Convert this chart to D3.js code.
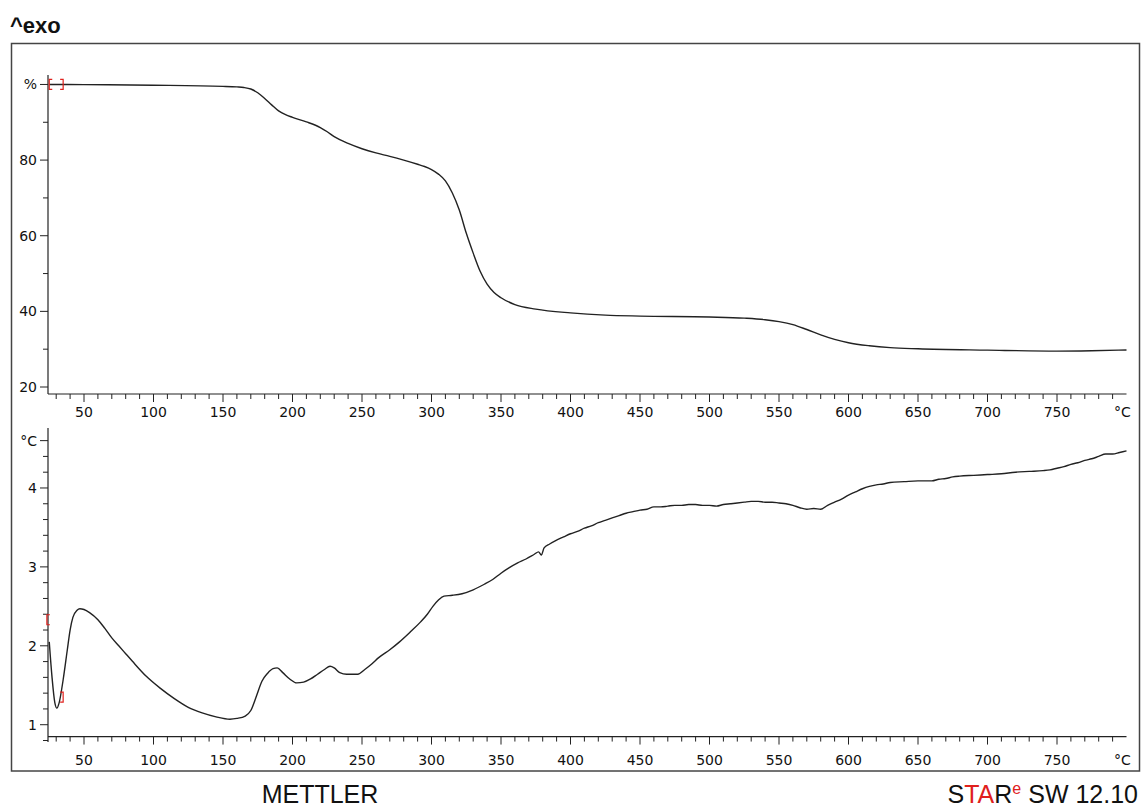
<!DOCTYPE html>
<html>
<head>
<meta charset="utf-8">
<script src="https://cdn.jsdelivr.net/npm/d3@7"></script>
<style>
  html, body { margin: 0; padding: 0; background: #fff; }
  svg { display: block; }
  .tick-label { font-family: "DejaVu Sans", Verdana, sans-serif; font-size: 14px; fill: #111; }
</style>
</head>
<body>
<svg id="chart" width="1143" height="808"></svg>
<script>
// TGA: sample mass (%) against temperature (°C)
const tgaTemp = [25, 50, 100, 150, 160, 165, 170, 175, 180, 185, 190, 195, 200, 210, 220, 225, 230, 240, 250, 260, 270, 280, 290, 295, 300, 305, 310, 315, 320, 325, 330, 335, 340, 345, 350, 360, 375, 400, 425, 450, 500, 525, 540, 550, 560, 570, 580, 590, 600, 615, 630, 650, 700, 750, 775, 800];
const tgaMass = [100.0, 99.95, 99.8, 99.5, 99.35, 99.2, 98.8, 97.8, 96.3, 94.6, 93.0, 92.0, 91.3, 90.1, 88.6, 87.5, 86.2, 84.4, 83.0, 81.9, 81.0, 80.0, 78.9, 78.3, 77.5, 76.3, 74.5, 71.3, 66.8, 60.7, 55.4, 50.6, 47.2, 45.0, 43.6, 41.8, 40.6, 39.6, 39.0, 38.75, 38.5, 38.2, 37.8, 37.3, 36.5, 35.2, 33.8, 32.6, 31.7, 30.9, 30.4, 30.1, 29.75, 29.5, 29.6, 29.8];

// SDTA signal (°C) against temperature (°C)
const sdtaTemp = [25, 27, 29, 30.5, 32, 35, 38, 40, 42, 45, 47, 50, 54, 60, 65, 70, 75, 80, 85, 95, 105, 115, 125, 135, 145, 155, 160, 166, 170, 174, 178, 182, 186, 189, 193, 198, 203, 208, 213, 218, 223, 227, 230, 234, 239, 247, 252, 257, 262, 270, 277, 285, 292, 297, 301, 305, 309, 315, 322, 330, 338, 344, 350, 356, 362, 368, 374, 377, 379, 381, 385, 390, 395, 400, 405, 410, 415, 420, 425, 430, 435, 440, 445, 450, 455, 460, 465, 470, 475, 480, 485, 490, 495, 500, 505, 510, 515, 520, 525, 530, 535, 540, 545, 550, 555, 560, 565, 570, 575, 580, 585, 590, 595, 600, 605, 610, 615, 620, 625, 630, 640, 650, 660, 665, 670, 675, 680, 690, 700, 710, 720, 730, 740, 745, 750, 755, 760, 765, 770, 775, 780, 785, 790, 795, 800];
const sdtaValue = [2.05, 1.6, 1.28, 1.21, 1.27, 1.57, 1.95, 2.2, 2.36, 2.45, 2.47, 2.46, 2.42, 2.33, 2.22, 2.10, 2.00, 1.90, 1.80, 1.61, 1.46, 1.33, 1.22, 1.15, 1.10, 1.07, 1.08, 1.11, 1.18, 1.36, 1.55, 1.65, 1.71, 1.72, 1.66, 1.58, 1.53, 1.54, 1.58, 1.64, 1.70, 1.74, 1.72, 1.66, 1.64, 1.64, 1.70, 1.77, 1.85, 1.95, 2.05, 2.18, 2.30, 2.40, 2.50, 2.58, 2.63, 2.64, 2.66, 2.71, 2.78, 2.84, 2.92, 2.99, 3.05, 3.10, 3.16, 3.19, 3.15, 3.24, 3.29, 3.34, 3.38, 3.42, 3.45, 3.49, 3.52, 3.56, 3.59, 3.62, 3.65, 3.68, 3.70, 3.72, 3.73, 3.76, 3.76, 3.77, 3.78, 3.78, 3.79, 3.79, 3.78, 3.78, 3.77, 3.79, 3.80, 3.81, 3.82, 3.83, 3.83, 3.82, 3.82, 3.81, 3.80, 3.78, 3.75, 3.73, 3.74, 3.73, 3.78, 3.82, 3.86, 3.91, 3.95, 3.99, 4.02, 4.04, 4.05, 4.07, 4.08, 4.09, 4.09, 4.11, 4.12, 4.14, 4.15, 4.16, 4.17, 4.18, 4.20, 4.21, 4.22, 4.23, 4.25, 4.27, 4.30, 4.32, 4.35, 4.37, 4.40, 4.43, 4.43, 4.45, 4.47];

// Axis ticks
const tempMinorTicks = d3.range(30, 800, 10);
const tempLabelTicks = [50, 100, 150, 200, 250, 300, 350, 400, 450, 500, 550, 600, 650, 700, 750];
const massTicks = [20, 30, 40, 50, 60, 70, 80, 90, 100];
const massLabels = [[20, "20"], [40, "40"], [60, "60"], [80, "80"], [100, "%"]];
const sdtaTicks = d3.range(8, 47, 2).map(d => d / 10);
const sdtaLabels = [[1, "1"], [2, "2"], [3, "3"], [4, "4"], [4.6, "°C"]];

// Evaluation limit brackets: [temperature, value, side]
const massBrackets = [[25, 100, "left"], [35, 100, "right"]];
const sdtaBrackets = [[23.3, 2.33, "left"], [35, 1.35, "right"]];

const svg = d3.select("#chart");
const ink = "#222";

// Outer frame
svg.append("rect")
  .attr("x", 11.5).attr("y", 43.5).attr("width", 1128).attr("height", 727.5)
  .attr("fill", "none").attr("stroke", "#444").attr("stroke-width", 1.5);

svg.append("text")
  .attr("x", 10).attr("y", 33)
  .attr("font-family", "Liberation Sans, Arial, sans-serif")
  .attr("font-size", 22).attr("font-weight", "bold").attr("fill", "#111")
  .text("^exo");

const x = d3.scaleLinear().domain([24.1, 800]).range([48, 1126.5]);
const yTop = d3.scaleLinear().domain([18.15, 102.5]).range([394, 75]);
const yBot = d3.scaleLinear().domain([0.8, 4.76]).range([740.5, 428]);

function tempAxis(axisY, labelY) {
  const g = svg.append("g");
  g.append("line")
    .attr("x1", x(24.1)).attr("x2", x(800)).attr("y1", axisY).attr("y2", axisY)
    .attr("stroke", ink).attr("stroke-width", 1.2);
  g.selectAll("line.minor").data(tempMinorTicks).join("line")
    .attr("class", "minor")
    .attr("x1", d => x(d)).attr("x2", d => x(d))
    .attr("y1", axisY).attr("y2", d => axisY + (d % 50 === 0 ? 8 : 5))
    .attr("stroke", ink).attr("stroke-width", 1);
  g.selectAll("text.lbl").data(tempLabelTicks).join("text")
    .attr("class", "tick-label lbl")
    .attr("x", d => x(d)).attr("y", labelY)
    .attr("text-anchor", "middle")
    .text(d => d);
  g.append("text").attr("class", "tick-label")
    .attr("x", x(797)).attr("y", labelY).attr("text-anchor", "middle").text("°C");
}

function valueAxis(scale, ticks, labels, y0, y1) {
  const g = svg.append("g");
  const labelled = new Set(labels.map(l => l[0]));
  g.append("line")
    .attr("x1", 48).attr("x2", 48).attr("y1", y0).attr("y2", y1)
    .attr("stroke", ink).attr("stroke-width", 1.2);
  g.selectAll("line.t").data(ticks).join("line")
    .attr("class", "t")
    .attr("x1", 48).attr("x2", d => 48 - (labelled.has(d) ? 8 : 5))
    .attr("y1", d => scale(d)).attr("y2", d => scale(d))
    .attr("stroke", ink).attr("stroke-width", 1);
  g.selectAll("text").data(labels).join("text")
    .attr("class", "tick-label")
    .attr("x", 37).attr("y", d => scale(d[0]) + 5)
    .attr("text-anchor", "end")
    .text(d => d[1]);
}

function brackets(scale, data) {
  svg.append("g").selectAll("path").data(data).join("path")
    .attr("d", d => {
      const bx = x(d[0]), by = scale(d[1]);
      return d[2] === "left"
        ? `M${bx + 3},${by - 5}H${bx}V${by + 5}H${bx + 3}`
        : `M${bx - 3},${by - 5}H${bx}V${by + 5}H${bx - 3}`;
    })
    .attr("fill", "none").attr("stroke", "#e0201c").attr("stroke-width", 1.2);
}

// Upper panel: TGA
valueAxis(yTop, massTicks, massLabels, 75, 394);
tempAxis(394, 417);
svg.append("path")
  .datum(tgaTemp.map((t, i) => [t, tgaMass[i]]))
  .attr("d", d3.line().x(d => x(d[0])).y(d => yTop(d[1])).curve(d3.curveMonotoneX))
  .attr("fill", "none").attr("stroke", ink).attr("stroke-width", 1.4);
brackets(yTop, massBrackets);

// Lower panel: SDTA
valueAxis(yBot, sdtaTicks, sdtaLabels, 428, 742);
tempAxis(yBot(0.85), 765);
svg.append("path")
  .datum(sdtaTemp.map((t, i) => [t, sdtaValue[i]]))
  .attr("d", d3.line().x(d => x(d[0])).y(d => yBot(d[1])).curve(d3.curveMonotoneX))
  .attr("fill", "none").attr("stroke", ink).attr("stroke-width", 1.4);
brackets(yBot, sdtaBrackets);

// Footer
svg.append("text")
  .attr("x", 320).attr("y", 803).attr("text-anchor", "middle")
  .attr("font-family", "Liberation Sans, Arial, sans-serif").attr("font-size", 25).attr("fill", "#111")
  .text("METTLER");

const star = svg.append("text")
  .attr("x", 1138).attr("y", 803).attr("text-anchor", "end")
  .attr("font-family", "Liberation Sans, Arial, sans-serif").attr("font-size", 25).attr("fill", "#111");
star.append("tspan").text("S");
star.append("tspan").attr("fill", "#e0201c").text("TA");
star.append("tspan").text("R");
star.append("tspan").attr("fill", "#e0201c").attr("font-size", 16).attr("dy", -9).text("e");
star.append("tspan").attr("dy", 9).text(" SW 12.10");
</script>
</body>
</html>
